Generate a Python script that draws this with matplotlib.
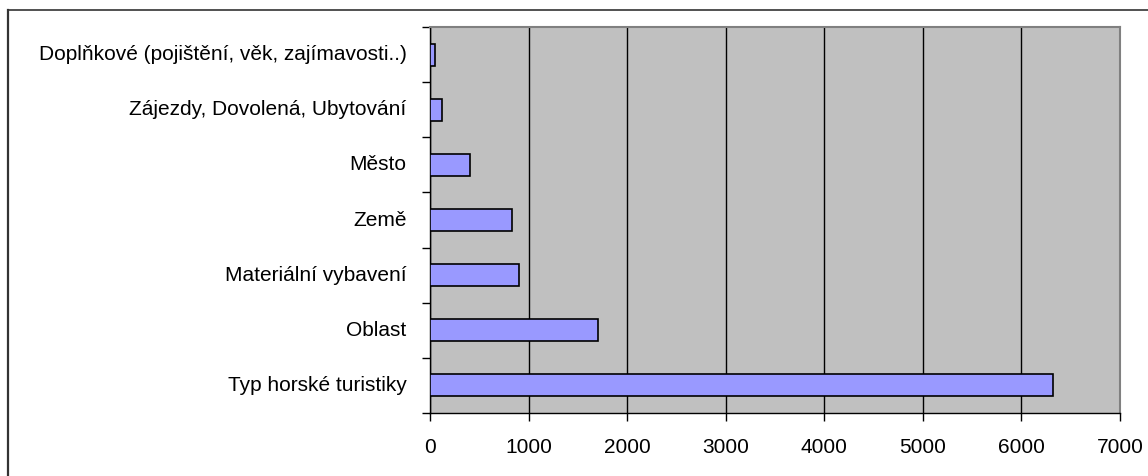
import matplotlib.pyplot as plt
import matplotlib.transforms as mtransforms
from matplotlib.lines import Line2D

plt.rcParams['font.family'] = ['Liberation Sans', 'DejaVu Sans']

categories = [
    "Typ horské turistiky",
    "Oblast",
    "Materiální vybavení",
    "Země",
    "Město",
    "Zájezdy, Dovolená, Ubytování",
    "Doplňkové (pojištění, věk, zajímavosti..)",
]
values = [6320, 1700, 900, 830, 410, 120, 55]
xticks = [0, 1000, 2000, 3000, 4000, 5000, 6000, 7000]

W, H = 1148, 477
fig = plt.figure(figsize=(W / 100, H / 100), dpi=100)
ax = fig.add_axes([430 / W, 1 - 414 / H, (1120 - 430) / W, (414 - 28) / H])

ax.set_facecolor('#C0C0C0')
ax.barh(range(len(categories)), values, height=0.4, color='#9999FF',
        edgecolor='black', linewidth=1.2, zorder=3)

ax.set_xlim(0, 7000)
ax.set_ylim(-0.5, len(categories) - 0.5)
ax.set_xticks(xticks)
ax.xaxis.grid(True, color='black', linewidth=1, zorder=1)

# category labels sit between the boundary ticks
ax.set_yticks(range(len(categories)))
ax.set_yticklabels(categories)
ax.tick_params(axis='y', which='major', length=0, pad=17, labelsize=15)
ax.set_yticks([i - 0.5 for i in range(len(categories) + 1)], minor=True)
ax.tick_params(axis='y', which='minor', length=6, width=1, color='black')
ax.tick_params(axis='x', length=6, width=1, pad=11, labelsize=15)

# nudge category labels slightly upward
shift = mtransforms.ScaledTranslation(0, 3 / 100, fig.dpi_scale_trans)
for lbl in ax.get_yticklabels():
    lbl.set_transform(lbl.get_transform() + shift)

for side in ('top', 'right'):
    ax.spines[side].set_color('#808080')
    ax.spines[side].set_linewidth(1.5)
for side in ('left', 'bottom'):
    ax.spines[side].set_color('black')
    ax.spines[side].set_linewidth(1)

# outer chart frame (top and left edge)
fig.add_artist(Line2D([8 / W, 1], [1 - 11 / H, 1 - 11 / H], color='#333333', linewidth=1.2))
fig.add_artist(Line2D([8 / W, 8 / W], [0, 1 - 11 / H], color='#333333', linewidth=1.6))

fig.savefig('out.png', dpi=100)
